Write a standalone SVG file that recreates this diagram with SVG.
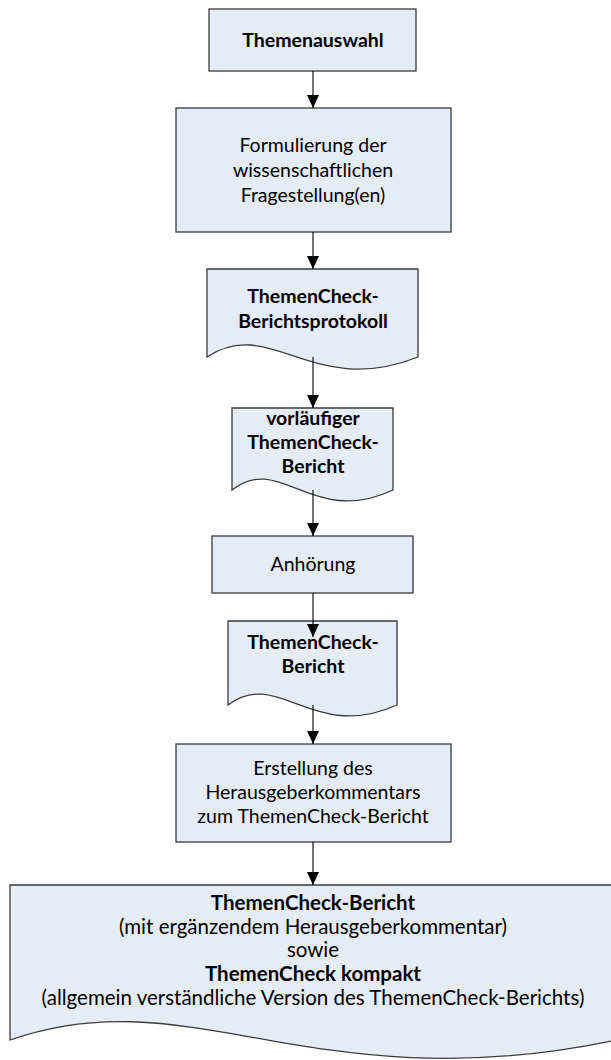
<svg xmlns="http://www.w3.org/2000/svg" width="611" height="1060" viewBox="0 0 611 1060">
<style>
  .box { fill: #E6ECF7; stroke: #3a3a3a; stroke-width: 1.3; }
  .t { font-family: Lato, "Liberation Sans", sans-serif; font-size: 19.5px; fill: #000; text-anchor: middle; }
  .b { font-weight: bold; }
  .big { font-size: 20.5px; }
  .conn line { stroke: #000; stroke-width: 1.1; }
</style>
<defs>
  <marker id="ah" markerUnits="userSpaceOnUse" markerWidth="14" markerHeight="12" refX="13" refY="6" orient="auto">
    <path d="M0,0 L13,6 L0,12 Z" fill="#000"/>
  </marker>
</defs>
<rect width="611" height="1060" fill="#fff"/>

<g id="n1">
  <rect class="box" x="209" y="9" width="207" height="62"/>
  <text class="t b" x="313" y="47">Themenauswahl</text>
</g>
<g id="n2">
  <rect class="box" x="176" y="108" width="275" height="124"/>
  <text class="t" x="313" y="152">Formulierung der</text>
  <text class="t" x="313" y="177">wissenschaftlichen</text>
  <text class="t" x="313" y="202">Fragestellung(en)</text>
</g>
<g id="n3">
  <path class="box" d="M207,269 H418 V357 C312.5,399 270.3,315 207,357 Z"/>
  <text class="t b" x="313" y="303">ThemenCheck-</text>
  <text class="t b" x="313" y="328">Berichtsprotokoll</text>
</g>
<g id="n4">
  <path class="box" d="M232,408 H393 V490 C312.5,528 280.3,452 232,490 Z"/>
  <text class="t b" x="313" y="425">vorläufiger</text>
  <text class="t b" x="313" y="449">ThemenCheck-</text>
  <text class="t b" x="313" y="473">Bericht</text>
</g>
<g id="n5">
  <rect class="box" x="212" y="536" width="201" height="57"/>
  <text class="t" x="313" y="571">Anhörung</text>
</g>
<g id="n6">
  <path class="box" d="M228,621 H397 V705 C312.5,743 278.7,667 228,705 Z"/>
  <text class="t b" x="313" y="649">ThemenCheck-</text>
  <text class="t b" x="313" y="673">Bericht</text>
</g>
<g id="n7">
  <rect class="box" x="176" y="744" width="275" height="98"/>
  <text class="t" x="313" y="775">Erstellung des</text>
  <text class="t" x="313" y="799">Herausgeberkommentars</text>
  <text class="t" x="313" y="823">zum ThemenCheck-Bericht</text>
</g>
<g id="n8">
  <path class="box" d="M10,885 H616 V1040 C313,1104 191.8,976 10,1040 Z"/>
  <text class="t big b" x="313" y="910">ThemenCheck-Bericht</text>
  <text class="t big" x="313" y="934">(mit ergänzendem Herausgeberkommentar)</text>
  <text class="t big" x="313" y="957">sowie</text>
  <text class="t big b" x="313" y="981">ThemenCheck kompakt</text>
  <text class="t big" x="313" y="1005">(allgemein verständliche Version des ThemenCheck-Berichts)</text>
</g>

<g id="connectors" class="conn">
  <line x1="313" y1="71" x2="313" y2="108" marker-end="url(#ah)"/>
  <line x1="313" y1="232" x2="313" y2="269" marker-end="url(#ah)"/>
  <line x1="313" y1="357" x2="313" y2="408" marker-end="url(#ah)"/>
  <line x1="313" y1="490" x2="313" y2="536" marker-end="url(#ah)"/>
  <line x1="313" y1="593" x2="313" y2="637" marker-end="url(#ah)"/>
  <line x1="313" y1="705" x2="313" y2="744" marker-end="url(#ah)"/>
  <line x1="313" y1="842" x2="313" y2="885" marker-end="url(#ah)"/>
</g>
</svg>
